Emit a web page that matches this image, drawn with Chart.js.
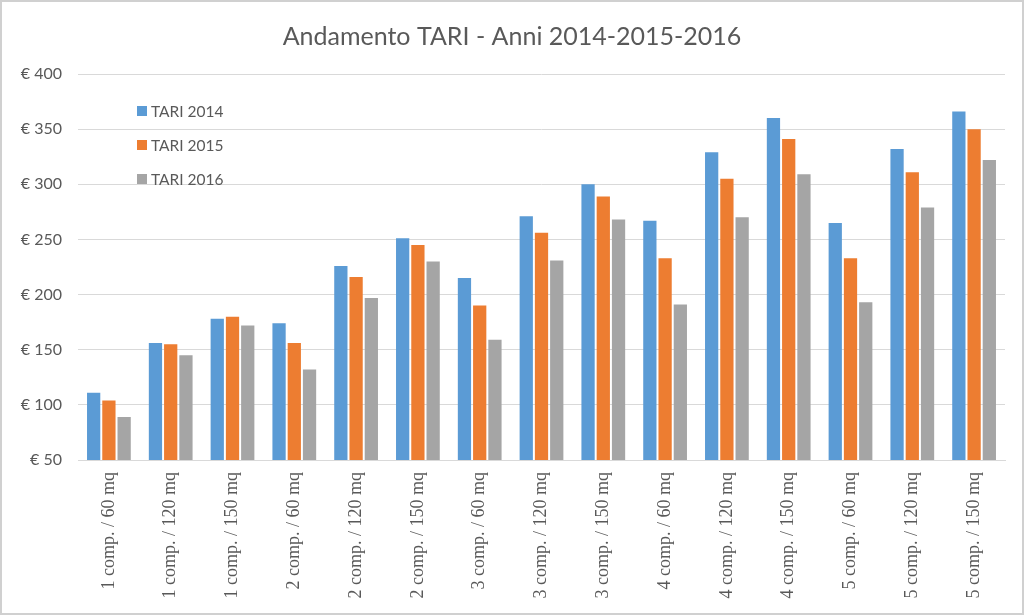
<!DOCTYPE html>
<html>
<head>
<meta charset="utf-8">
<script src="https://cdn.jsdelivr.net/npm/chart.js@4.4.1/dist/chart.umd.min.js"></script>
<style>
  html, body { margin: 0; padding: 0; background: #fff; }
  #wrap { width: 1024px; height: 615px; position: relative; }
</style>
</head>
<body>
<div id="wrap"><canvas id="c" width="1024" height="615"></canvas></div>
<script>
const categories = [
  "1 comp. / 60 mq", "1 comp. / 120 mq", "1 comp. / 150 mq",
  "2 comp. / 60 mq", "2 comp. / 120 mq", "2 comp. / 150 mq",
  "3 comp. / 60 mq", "3 comp. / 120 mq", "3 comp. / 150 mq",
  "4 comp. / 60 mq", "4 comp. / 120 mq", "4 comp. / 150 mq",
  "5 comp. / 60 mq", "5 comp. / 120 mq", "5 comp. / 150 mq"
];
const tari2014 = [111, 156, 178, 174, 226, 251, 215, 271, 300, 267, 329, 360, 265, 332, 366];
const tari2015 = [104, 155, 180, 156, 216, 245, 190, 256, 289, 233, 305, 341, 233, 311, 350];
const tari2016 = [89, 145, 172, 132, 197, 230, 159, 231, 268, 191, 270, 309, 193, 279, 322];
const seriesLabels = ["TARI 2014", "TARI 2015", "TARI 2016"];
const yTicks = [50, 100, 150, 200, 250, 300, 350, 400];
const titleText = "Andamento TARI - Anni 2014-2015-2016";

const colors = ["#5b9bd5", "#ed7d31", "#a5a5a5"];

const insideLegend = {
  id: 'insideLegend',
  afterDraw(chart) {
    const ctx = chart.ctx;
    ctx.save();
    ctx.font = '15.5px Lato, "Liberation Sans", sans-serif';
    ctx.textBaseline = 'middle';
    chart.data.datasets.forEach((ds, i) => {
      const y = 111 + i * 34;
      ctx.fillStyle = ds.backgroundColor;
      ctx.fillRect(137, y - 5, 10, 10);
      ctx.fillStyle = '#595959';
      ctx.fillText(ds.label, 151, y + 1);
    });
    ctx.restore();
  }
};

const centeredTitle = {
  id: 'centeredTitle',
  afterDraw(chart) {
    const ctx = chart.ctx;
    ctx.save();
    ctx.font = '25px Lato, "Open Sans", sans-serif';
    ctx.fillStyle = '#595959';
    ctx.textAlign = 'center';
    ctx.textBaseline = 'middle';
    ctx.fillText(titleText, chart.width / 2, 37);
    ctx.restore();
  }
};

const frame = {
  id: 'frame',
  afterDraw(chart) {
    const ctx = chart.ctx;
    ctx.save();
    ctx.strokeStyle = '#d0d0d0';
    ctx.lineWidth = 2;
    ctx.strokeRect(1, 1, chart.width - 2, chart.height - 2);
    ctx.restore();
  }
};

new Chart(document.getElementById('c'), {
  type: 'bar',
  data: {
    labels: categories,
    datasets: [
      { label: seriesLabels[0], data: tari2014, backgroundColor: colors[0] },
      { label: seriesLabels[1], data: tari2015, backgroundColor: colors[1] },
      { label: seriesLabels[2], data: tari2016, backgroundColor: colors[2] }
    ]
  },
  options: {
    responsive: false,
    animation: false,
    devicePixelRatio: 1,
    layout: { padding: { left: 0, right: 19, top: 74, bottom: 8 } },
    datasets: { bar: { categoryPercentage: 0.74, barPercentage: 0.87 } },
    plugins: {
      legend: { display: false },
      tooltip: { enabled: false },
      title: { display: false }
    },
    scales: {
      x: {
        afterFit(axis) { axis.height = 147; },
        grid: { display: false, drawTicks: false },
        border: { display: true, color: '#d9d9d9', width: 1 },
        ticks: {
          color: '#595959',
          font: { family: '"Liberation Serif", "DejaVu Serif", serif', size: 18 },
          maxRotation: 90, minRotation: 90,
          autoSkip: false,
          padding: 12
        }
      },
      y: {
        min: 50, max: 400,
        afterBuildTicks(axis) { axis.ticks = yTicks.map(v => ({ value: v })); },
        afterFit(axis) { axis.width = 78; },
        grid: { color: '#d9d9d9', drawTicks: false },
        border: { display: false },
        ticks: {
          color: '#595959',
          padding: 16,
          font: { family: 'Lato, "Open Sans", sans-serif', size: 16 },
          callback: v => '€ ' + v
        }
      }
    }
  },
  plugins: [insideLegend, centeredTitle, frame]
});
</script>
</body>
</html>
